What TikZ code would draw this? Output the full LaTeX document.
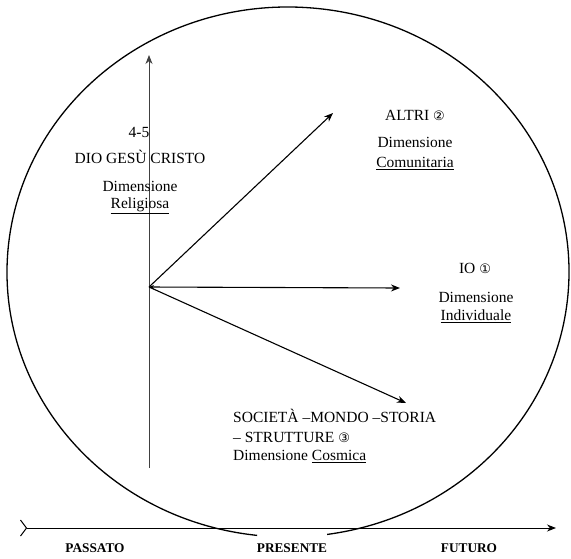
\documentclass[tikz,border=0pt]{standalone}
\usepackage{amsmath}
\usepackage{amssymb}
\usepackage{xcolor}
\usepackage{fontspec}
\setmainfont{Liberation Serif}
\newfontfamily\simboli{DejaVu Sans}
\usepackage{tikz}
\usetikzlibrary{arrows.meta}
\newcommand{\cerchio}[1]{{\simboli\fontsize{13}{13}\selectfont #1}}

\begin{document}
\begin{tikzpicture}[x=1pt,y=-1pt,
  testo/.style={font=\fontsize{15.5}{17}\selectfont, inner sep=0pt, anchor=base},
  tempo/.style={font=\fontsize{13.3}{15}\selectfont\bfseries, inner sep=0pt, anchor=base},
  freccia/.style={line width=1.1pt, -{Stealth[length=9pt,width=7pt]}}]
\useasboundingbox (0,0) rectangle (571,558);
% cerchio aperto sotto PRESENTE
\draw[line width=1.3pt] (288,272) ++(96.3:281 and 265) arc[start angle=96.3, end angle=442, x radius=281, y radius=265];
\coordinate (O) at (149,287);
\coordinate (basso) at (149,468);
\coordinate (alto) at (149,55);
\coordinate (altri) at (333,113);
\coordinate (io) at (400,288);
\coordinate (cosmo) at (406,403);
\coordinate (ini) at (20,528);
\coordinate (fine) at (556,528);
\draw[line width=0.8pt, black!75, -{Stealth[length=9pt,width=7pt]}] (basso) -- (alto);
\draw[freccia] (O) -- (altri);
\draw[freccia, {Stealth[length=5pt,width=4pt]}-{Stealth[length=9pt,width=7pt]}] (O) -- (io);
\draw[freccia] (O) -- (cosmo);
\draw[line width=1pt, {Straight Barb[reversed,length=6pt,width=16pt]}-{Stealth[length=9pt,width=7pt]}] (ini) -- (fine);
% dimensione religiosa
\node[testo] (num) at (139,137) {4-5};
\node[testo] (dio) at (140,163) {DIO GESÙ CRISTO};
\node[testo] (dimr) at (140,191) {Dimensione};
\node[testo] (rel) at (140,208) {\underline{Religiosa}};
% dimensione comunitaria
\node[testo] (altrit) at (415,120) {ALTRI \cerchio{②}};
\node[testo] (dima) at (415,147) {Dimensione};
\node[testo] (com) at (415,167) {\underline{Comunitaria}};
% dimensione individuale
\node[testo] (iot) at (475,273) {IO \cerchio{①}};
\node[testo] (dimi) at (476,302) {Dimensione};
\node[testo] (ind) at (476,320) {\underline{Individuale}};
% dimensione cosmica
\node[testo, anchor=base west] (soc) at (233,422) {SOCIETÀ –MONDO –STORIA};
\node[testo, anchor=base west] (str) at (233,442) {– STRUTTURE \cerchio{③}};
\node[testo, anchor=base west] (cos) at (233,460) {Dimensione \underline{Cosmica}};
% tempo
\node[tempo] (passato) at (95,552) {PASSATO};
\node[tempo] (presente) at (292,552) {PRESENTE};
\node[tempo] (futuro) at (469,552) {FUTURO};
\end{tikzpicture}
\end{document}
